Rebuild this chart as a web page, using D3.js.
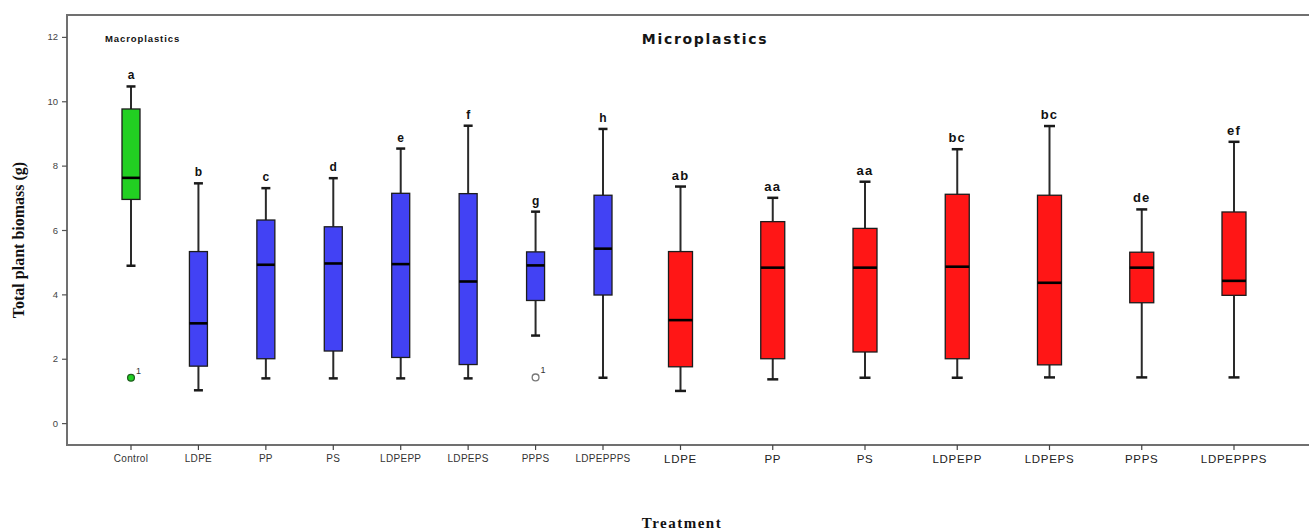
<!DOCTYPE html>
<html>
<head>
<meta charset="utf-8">
<script src="https://cdn.jsdelivr.net/npm/d3@7"></script>
<style>
  html, body { margin: 0; padding: 0; background: #fff; }
  svg { display: block; }
</style>
</head>
<body>
<svg id="chart" width="1309" height="531"></svg>
<script>
// Treatments, in plotting order
const treatments = ["Control", "LDPE", "PP", "PS", "LDPEPP", "LDPEPS", "PPPS", "LDPEPPPS",
                    "LDPE", "PP", "PS", "LDPEPP", "LDPEPS", "PPPS", "LDPEPPPS"];
// Which plastic group each treatment belongs to
const groups = ["control", "macro", "macro", "macro", "macro", "macro", "macro", "macro",
                "micro", "micro", "micro", "micro", "micro", "micro", "micro"];

// Box-plot summaries of total plant biomass (g)
const whiskerLow  = [4.89, 1.02, 1.39, 1.39, 1.39, 1.39, 2.72, 1.41, 1.00, 1.36, 1.41, 1.41, 1.42, 1.42, 1.42];
const quartile1   = [6.95, 1.77, 2.00, 2.24, 2.04, 1.82, 3.81, 3.98, 1.75, 2.00, 2.21, 2.00, 1.81, 3.74, 3.97];
const medians     = [7.62, 3.10, 4.92, 4.96, 4.94, 4.40, 4.90, 5.42, 3.20, 4.83, 4.83, 4.86, 4.36, 4.83, 4.42];
const quartile3   = [9.76, 5.33, 6.31, 6.10, 7.14, 7.13, 5.32, 7.08, 5.33, 6.26, 6.05, 7.11, 7.08, 5.31, 6.56];
const whiskerHigh = [10.46, 7.45, 7.30, 7.61, 8.53, 9.24, 6.57, 9.14, 7.35, 7.00, 7.50, 8.51, 9.23, 6.64, 8.74];

// Significance letters above each box
const letters = ["a", "b", "c", "d", "e", "f", "g", "h", "ab", "aa", "aa", "bc", "bc", "de", "ef"];

// Outlying observations: [treatment index, value, case label]
const outlierIndex = [0, 6];
const outlierValue = [1.41, 1.42];
const outlierLabel = ["1", "1"];

const yTicks = [0, 2, 4, 6, 8, 10, 12];

const colors = { control: "#22d022", macro: "#4242f4", micro: "#ff1616" };

const svg = d3.select("#chart");

// Horizontal placement: seven macroplastic slots then seven wider microplastic slots
const x = d3.scaleLinear()
  .domain([0, 7, 8, 14])
  .range([131, 603, 680.5, 1234]);

const y = d3.scaleLinear()
  .domain([-0.68, 12.68])
  .range([445, 15]);

const boxW = g => g === "micro" ? 24 : 18;
const capW = g => g === "micro" ? 11 : 9;

// Frame: left axis, top rule, bottom axis
const axisColor = "#707070";
svg.append("line").attr("x1", 67).attr("x2", 67).attr("y1", 14).attr("y2", 446)
  .attr("stroke", axisColor).attr("stroke-width", 2);
svg.append("line").attr("x1", 66).attr("x2", 1309).attr("y1", 15).attr("y2", 15)
  .attr("stroke", axisColor).attr("stroke-width", 2);
svg.append("line").attr("x1", 66).attr("x2", 1309).attr("y1", 445).attr("y2", 445)
  .attr("stroke", axisColor).attr("stroke-width", 2.2);

// Y axis ticks and labels
const yAxis = svg.append("g").attr("transform", "translate(67,0)")
  .call(d3.axisLeft(y).tickValues(yTicks).tickSize(5).tickPadding(4).tickFormat(d3.format("d")));
yAxis.select(".domain").remove();
yAxis.selectAll(".tick line").attr("stroke", "#555").attr("stroke-width", 1.2);
yAxis.selectAll(".tick text")
  .attr("fill", "#444").style("font-family", "'Liberation Sans', Arial, sans-serif")
  .style("font-size", "9.5px");

// X axis ticks and labels
const idx = d3.range(treatments.length);
const xAxis = svg.append("g").attr("transform", "translate(0,445)");
xAxis.selectAll("line.tick").data(idx).join("line")
  .attr("x1", d => x(d)).attr("x2", d => x(d))
  .attr("y1", 0).attr("y2", 5)
  .attr("stroke", "#444").attr("stroke-width", 1.2);
xAxis.selectAll("text.tlabel").data(idx).join("text")
  .attr("class", "tlabel")
  .attr("x", d => x(d)).attr("y", d => groups[d] === "micro" ? 17.5 : 17)
  .attr("text-anchor", "middle")
  .attr("fill", d => groups[d] === "micro" ? "#222" : "#333")
  .style("font-family", "'Liberation Sans', Arial, sans-serif")
  .style("font-size", d => groups[d] === "micro" ? "11.5px" : "10px")
  .style("letter-spacing", d => groups[d] === "micro" ? "0.7px" : "0.3px")
  .text(d => treatments[d]);

// Boxes
const boxes = svg.append("g").selectAll("g.box").data(idx).join("g").attr("class", "box");

boxes.append("line") // upper whisker
  .attr("x1", d => x(d)).attr("x2", d => x(d))
  .attr("y1", d => y(quartile3[d])).attr("y2", d => y(whiskerHigh[d]))
  .attr("stroke", "#2a2a2a").attr("stroke-width", 2);
boxes.append("line") // lower whisker
  .attr("x1", d => x(d)).attr("x2", d => x(d))
  .attr("y1", d => y(quartile1[d])).attr("y2", d => y(whiskerLow[d]))
  .attr("stroke", "#2a2a2a").attr("stroke-width", 2);
boxes.append("line") // upper cap
  .attr("x1", d => x(d) - capW(groups[d]) / 2).attr("x2", d => x(d) + capW(groups[d]) / 2)
  .attr("y1", d => y(whiskerHigh[d])).attr("y2", d => y(whiskerHigh[d]))
  .attr("stroke", "#1a1a1a").attr("stroke-width", 2.5);
boxes.append("line") // lower cap
  .attr("x1", d => x(d) - capW(groups[d]) / 2).attr("x2", d => x(d) + capW(groups[d]) / 2)
  .attr("y1", d => y(whiskerLow[d])).attr("y2", d => y(whiskerLow[d]))
  .attr("stroke", "#1a1a1a").attr("stroke-width", 2.5);
boxes.append("rect")
  .attr("x", d => x(d) - boxW(groups[d]) / 2)
  .attr("width", d => boxW(groups[d]))
  .attr("y", d => y(quartile3[d]))
  .attr("height", d => y(quartile1[d]) - y(quartile3[d]))
  .attr("fill", d => colors[groups[d]])
  .attr("stroke", "#1c1c1c").attr("stroke-width", 1.3);
boxes.append("line") // median
  .attr("x1", d => x(d) - boxW(groups[d]) / 2).attr("x2", d => x(d) + boxW(groups[d]) / 2)
  .attr("y1", d => y(medians[d])).attr("y2", d => y(medians[d]))
  .attr("stroke", "#000").attr("stroke-width", 2.6);

// Significance letters
boxes.append("text")
  .attr("x", d => x(d)).attr("y", d => y(whiskerHigh[d]) - 7)
  .attr("text-anchor", "middle")
  .attr("fill", "#111")
  .style("font-family", "'Liberation Sans', Arial, sans-serif")
  .style("font-weight", "bold")
  .style("font-size", d => groups[d] === "micro" ? "13px" : "12px")
  .style("letter-spacing", d => groups[d] === "micro" ? "1.2px" : "0px")
  .text(d => letters[d]);

// Outliers
const outs = svg.append("g").selectAll("g.out").data(d3.range(outlierIndex.length)).join("g");
outs.append("circle")
  .attr("cx", i => x(outlierIndex[i])).attr("cy", i => y(outlierValue[i])).attr("r", 3.4)
  .attr("fill", i => groups[outlierIndex[i]] === "control" ? colors.control : "none")
  .attr("stroke", i => groups[outlierIndex[i]] === "control" ? "#1f5f1f" : "#777")
  .attr("stroke-width", 1.3);
outs.append("text")
  .attr("x", i => x(outlierIndex[i]) + 5).attr("y", i => y(outlierValue[i]) - 4)
  .attr("fill", "#333")
  .style("font-family", "'Liberation Sans', Arial, sans-serif")
  .style("font-size", "9px")
  .text(i => outlierLabel[i]);

// Panel titles
svg.append("text").attr("x", 105).attr("y", 42)
  .attr("fill", "#111")
  .style("font-family", "'Liberation Sans', Arial, sans-serif")
  .style("font-weight", "bold").style("font-size", "9.5px").style("letter-spacing", "0.9px")
  .text("Macroplastics");
svg.append("text").attr("x", 705).attr("y", 44)
  .attr("text-anchor", "middle")
  .attr("fill", "#151515")
  .style("font-family", "'DejaVu Sans', sans-serif")
  .style("font-weight", "bold").style("font-size", "14px").style("letter-spacing", "1.7px")
  .text("Microplastics");

// Axis titles
svg.append("text")
  .attr("transform", "translate(24,240) rotate(-90)")
  .attr("text-anchor", "middle")
  .attr("fill", "#111")
  .style("font-family", "'Liberation Serif', 'Times New Roman', serif")
  .style("font-weight", "bold").style("font-size", "16px")
  .text("Total plant biomass (g)");
svg.append("text")
  .attr("x", 682).attr("y", 528)
  .attr("text-anchor", "middle")
  .attr("fill", "#111")
  .style("font-family", "'Liberation Serif', 'Times New Roman', serif")
  .style("font-weight", "bold").style("font-size", "15px").style("letter-spacing", "1.5px")
  .text("Treatment");
</script>
</body>
</html>
